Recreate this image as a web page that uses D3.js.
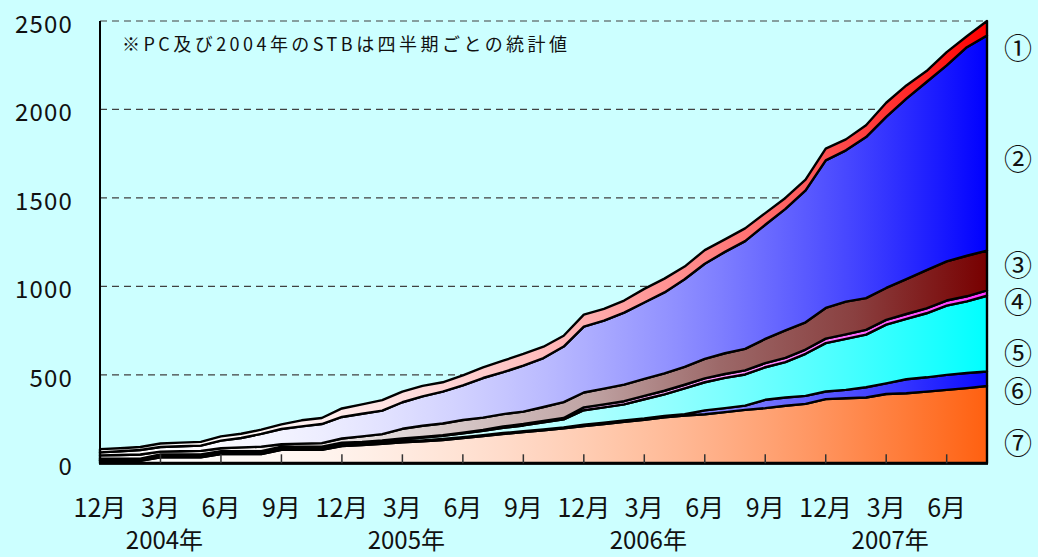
<!DOCTYPE html>
<html><head><meta charset="utf-8">
<script src="https://cdn.jsdelivr.net/npm/d3@7"></script>
<style>
html,body{margin:0;padding:0;background:#CCFFFF;}
svg{display:block;}
text{font-family:"Noto Sans CJK JP","Noto Sans",sans-serif;fill:#111;}
</style></head>
<body>
<svg id="chart" width="1038" height="557"></svg>
<script>
// ---- data ----
const categories = ["2003/12",
 "2004/1","2004/2","2004/3","2004/4","2004/5","2004/6","2004/7","2004/8","2004/9","2004/10","2004/11","2004/12",
 "2005/1","2005/2","2005/3","2005/4","2005/5","2005/6","2005/7","2005/8","2005/9","2005/10","2005/11","2005/12",
 "2006/1","2006/2","2006/3","2006/4","2006/5","2006/6","2006/7","2006/8","2006/9","2006/10","2006/11","2006/12",
 "2007/1","2007/2","2007/3","2007/4","2007/5","2007/6","2007/7","2007/8"];
const seriesNames = ["①","②","③","④","⑤","⑥","⑦"];
const s1 = [18,17,17,20,21,21,24,24,24,26,34,34,48,53,59,60,60,53,57,60,65,66,64,61,68,67,68,77,78,72,77,71,72,66,62,60,67,62,67,80,75,62,75,62,82];
const s2 = [17,21,25,26,28,30,43,53,72,86,98,108,122,128,133,150,166,180,195,224,237,260,277,314,372,384,407,432,458,495,538,573,609,645,687,746,834,855,910,967,1020,1063,1108,1179,1216];
const s3 = [19,21,24,16,18,20,17,22,26,14,17,20,24,31,36,55,63,66,72,70,70,70,78,90,84,89,94,96,98,101,110,117,122,137,155,154,173,185,180,180,197,216,221,229,225];
const s4 = [3,3,3,3,3,3,3,3,3,3,3,3,3,3,3,4,4,4,4,4,8,8,8,8,16,17,18,19,20,21,22,22,23,23,24,24,26,26,27,27,28,28,29,29,30];
const s5 = [6,6,6,10,10,10,10,10,10,12,12,12,12,10,11,13,16,18,22,25,29,33,40,45,82,87,91,109,123,146,159,171,176,184,200,238,273,288,297,332,341,362,391,405,428];
const s6 = [3,3,3,3,3,3,3,3,3,3,3,3,3,5,5,5,5,5,5,5,5,5,5,5,7,7,7,7,7,7,22,23,24,47,47,45,43,47,58,60,79,81,85,85,82];
const s7 = [14,14,14,34,34,34,52,52,52,76,76,76,98,103,110,118,124,132,142,154,166,176,187,198,211,222,235,246,260,270,277,289,302,312,325,336,363,368,372,392,396,405,415,425,437];
const yTicks = [0,500,1000,1500,2000,2500];
const tickLabels = ["12月","3月","6月","9月","12月","3月","6月","9月","12月","3月","6月","9月","12月","3月","6月"];
const yearLabels = ["2004年","2005年","2006年","2007年"];
const yearAnchors = ["2004/3","2005/3","2006/3","2007/3"];
const noteText = "※PC及び2004年のSTBは四半期ごとの統計値";

// ---- layout ----
const L = 100, R = 987, T = 21, B = 463.3;
const svg = d3.select("#chart");
const x = d3.scaleLinear().domain([0, categories.length - 1]).range([L, R]);
const y = d3.scaleLinear().domain([0, 2500]).range([B, T]);

// layers bottom -> top
const layerSeries = [s7, s6, s5, s4, s3, s2, s1];
const keys = ["k7","k6","k5","k4","k3","k2","k1"];
const rows = categories.map((c, i) => {
  const r = {i};
  keys.forEach((k, j) => r[k] = layerSeries[j][i]);
  return r;
});
const stacked = d3.stack().keys(keys)(rows);

// gradients
const endColors = ["#FF6010", "#0A0AFF", "#00FFFF", "#FF33FF", null, "#0000FF", "#FF0000"];
const defs = svg.append("defs");
function grad(id, stopFn) {
  const g = defs.append("linearGradient").attr("id", id)
    .attr("gradientUnits", "userSpaceOnUse").attr("x1", L).attr("x2", R).attr("y1", 0).attr("y2", 0);
  stopFn(g);
}
endColors.forEach((c, j) => {
  grad("g" + j, g => {
    if (c) {
      const ip = d3.interpolateRgb("#FFFFFF", c);
      d3.range(0, 1.0001, 0.05).forEach(t => {
        g.append("stop").attr("offset", t).attr("stop-color", ip(Math.pow(t, 1.9)));
      });
    } else {
      [[0,"#FFFFFF"],[0.33,"#E0D8D8"],[0.55,"#C0A4A4"],[0.7,"#9C6868"],[0.85,"#8A4040"],[1,"#780000"]]
        .forEach(([o, col]) => g.append("stop").attr("offset", o).attr("stop-color", col));
    }
  });
});

// gridlines
svg.append("g").selectAll("line").data(yTicks.filter(v => v > 0)).join("line")
  .attr("x1", L).attr("x2", R).attr("y1", d => y(d)).attr("y2", d => y(d))
  .attr("stroke", "#404040").attr("stroke-width", 1.2).attr("stroke-dasharray", "7,5");

// areas
const area = d3.area().x(d => x(d.data.i)).y0(d => y(d[0])).y1(d => y(d[1]));
svg.append("g").selectAll("path").data(stacked).join("path")
  .attr("d", area)
  .attr("fill", (d, j) => `url(#g${j})`)
  .attr("stroke", "#000").attr("stroke-width", 2.4).attr("stroke-linejoin", "round");

// axes
svg.append("line").attr("x1", L).attr("x2", L).attr("y1", T).attr("y2", B)
  .attr("stroke", "#000").attr("stroke-width", 2);
svg.append("line").attr("x1", L - 1).attr("x2", R + 1).attr("y1", B).attr("y2", B)
  .attr("stroke", "#000").attr("stroke-width", 3);

// x ticks (every 3 months)
const tickIdx = tickLabels.map((t, k) => k * 3);
svg.append("g").selectAll("line").data(tickIdx.filter(i => i > 0)).join("line")
  .attr("x1", d => x(d)).attr("x2", d => x(d)).attr("y1", B).attr("y2", B - 9)
  .attr("stroke", "#333").attr("stroke-width", 1.5);

// y labels
svg.append("g").selectAll("text").data(yTicks).join("text")
  .attr("x", 73).attr("y", d => y(d) + 12)
  .attr("text-anchor", "end").attr("font-size", 24).attr("letter-spacing", 1.2)
  .text(d => d);

// x labels
svg.append("g").selectAll("text").data(tickLabels).join("text")
  .attr("x", (d, k) => x(tickIdx[k])).attr("y", 517)
  .attr("text-anchor", "middle").attr("font-size", 25)
  .text(d => d);

// year labels
svg.append("g").selectAll("text").data(yearLabels).join("text")
  .attr("x", (d, k) => x(categories.indexOf(yearAnchors[k])) + 4).attr("y", 549)
  .attr("text-anchor", "middle").attr("font-size", 24)
  .text(d => d);

// note
svg.append("text").attr("x", 122).attr("y", 51).attr("font-size", 18)
  .attr("textLength", 445).attr("lengthAdjust", "spacing")
  .text(noteText);

// series labels on right
const labelY = [47, 158, 264, 301, 352, 390, 442];
svg.append("g").selectAll("text").data(seriesNames).join("text")
  .attr("x", 1004).attr("y", (d, k) => labelY[k])
  .attr("dominant-baseline", "central").attr("font-size", 28)
  .text(d => d);
</script>
</body></html>
